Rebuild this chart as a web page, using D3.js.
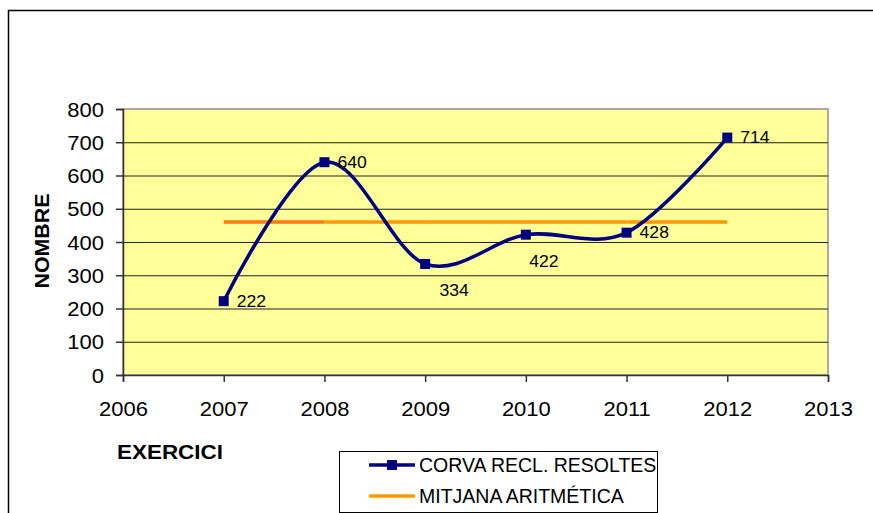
<!DOCTYPE html>
<html>
<head>
<meta charset="utf-8">
<script src="https://cdn.jsdelivr.net/npm/d3@7"></script>
<style>
  body { margin: 0; background: #fff; }
  text { font-family: "Liberation Sans", Arial, sans-serif; fill: #000; }
</style>
</head>
<body>
<div id="chart"></div>
<script>
// chart data
const years = [2007, 2008, 2009, 2010, 2011, 2012];
const resolved = [222, 640, 334, 422, 428, 714];
const meanValues = [460, 460, 460, 460, 460, 460];
const yTicks = [0, 100, 200, 300, 400, 500, 600, 700, 800];
const xTicks = [2006, 2007, 2008, 2009, 2010, 2011, 2012, 2013];
const seriesNames = ["CORVA RECL. RESOLTES", "MITJANA ARITMÉTICA"];

const width = 873, height = 513;
const plot = { left: 123, top: 109, right: 828, bottom: 375 };

const svg = d3.select("#chart").append("svg")
  .attr("width", width)
  .attr("height", height);

// outer chart frame (runs off the right and bottom edge)
svg.append("rect")
  .attr("x", 8.5).attr("y", 10.5)
  .attr("width", 900).attr("height", 600)
  .attr("fill", "none").attr("stroke", "#000").attr("stroke-width", 1.5);

const x = d3.scaleLinear().domain([2006, 2013]).range([plot.left, plot.right]);
const y = d3.scaleLinear().domain([0, 800]).range([plot.bottom, plot.top]);

// plot background
svg.append("rect")
  .attr("x", plot.left).attr("y", plot.top)
  .attr("width", plot.right - plot.left).attr("height", plot.bottom - plot.top)
  .attr("fill", "#FFFF99")
  .attr("stroke", "#909090").attr("stroke-width", 1.5);

// gridlines
svg.append("g").selectAll("line")
  .data(yTicks.filter(d => d > 0 && d < 800))
  .join("line")
  .attr("x1", plot.left).attr("x2", plot.right)
  .attr("y1", d => y(d) + 0.5).attr("y2", d => y(d) + 0.5)
  .attr("stroke", "#222").attr("stroke-width", 1);

// axes
const yAxis = svg.append("g")
  .attr("transform", `translate(${plot.left},0)`)
  .call(d3.axisLeft(y).tickValues(yTicks).tickSize(7).tickPadding(12));
const xAxis = svg.append("g")
  .attr("transform", `translate(0,${plot.bottom})`)
  .call(d3.axisBottom(x).tickValues(xTicks).tickFormat(d3.format("d")).tickSize(7).tickPadding(20));

[yAxis, xAxis].forEach(g => {
  g.select(".domain").attr("stroke", "#333").attr("stroke-width", 1.5);
  g.selectAll(".tick line").attr("stroke", "#333").attr("stroke-width", 1.5);
  g.selectAll(".tick text")
    .attr("font-family", "Liberation Sans, Arial, sans-serif")
    .attr("font-size", 20).attr("fill", "#000")
    .attr("class", "stretch");
});
yAxis.selectAll(".tick text").attr("dy", "0.36em");

// axis titles
svg.append("text")
  .attr("x", 117).attr("y", 459)
  .attr("font-size", 19.5).attr("font-weight", "bold")
  .attr("textLength", 106).attr("lengthAdjust", "spacingAndGlyphs")
  .text("EXERCICI");

svg.append("text")
  .attr("transform", "translate(49,241) rotate(-90)")
  .attr("text-anchor", "middle")
  .attr("font-size", 19.5).attr("font-weight", "bold")
  .attr("textLength", 95).attr("lengthAdjust", "spacingAndGlyphs")
  .text("NOMBRE");

// mean line, drawn per segment
const meanColors = ["#FF7A10", "#FF9900", "#FF9900", "#FF9900", "#FF9900"];
svg.append("g").selectAll("line")
  .data(d3.pairs(years.map((yr, i) => [yr, meanValues[i]])))
  .join("line")
  .attr("x1", d => x(d[0][0])).attr("y1", d => y(d[0][1]))
  .attr("x2", d => x(d[1][0])).attr("y2", d => y(d[1][1]))
  .attr("stroke", (d, i) => meanColors[i])
  .attr("stroke-width", 3.5);

// smoothed series
const pts = years.map((yr, i) => [yr, resolved[i]]);
const line = d3.line()
  .x(d => x(d[0])).y(d => y(d[1]))
  .curve(d3.curveCardinal.tension(0));
svg.append("path")
  .datum(pts)
  .attr("d", line)
  .attr("fill", "none")
  .attr("stroke", "#000080")
  .attr("stroke-width", 3.5);

svg.append("g").selectAll("rect")
  .data(pts)
  .join("rect")
  .attr("x", d => x(d[0]) - 5).attr("y", d => y(d[1]) - 5)
  .attr("width", 10).attr("height", 10)
  .attr("fill", "#000080");

// data labels (Excel put two of them below the point)
const below = { 2009: [29, 26], 2010: [18, 27] };
svg.append("g").selectAll("text")
  .data(pts)
  .join("text")
  .attr("x", d => below[d[0]] ? x(d[0]) + below[d[0]][0] : x(d[0]) + 13)
  .attr("y", d => below[d[0]] ? y(d[1]) + below[d[0]][1] : y(d[1]))
  .attr("dy", "0.36em")
  .attr("text-anchor", d => below[d[0]] ? "middle" : "start")
  .attr("font-size", 16)
  .attr("class", "stretch")
  .text(d => d[1]);

// legend
const legend = svg.append("g");
legend.append("rect")
  .attr("x", 339.5).attr("y", 451.5)
  .attr("width", 318).attr("height", 61)
  .attr("fill", "#fff").attr("stroke", "#000").attr("stroke-width", 1);

const legendColors = ["#000080", "#FF9900"];
const legendY = [465, 496];
seriesNames.forEach((name, i) => {
  legend.append("line")
    .attr("x1", 369).attr("x2", 415)
    .attr("y1", legendY[i]).attr("y2", legendY[i])
    .attr("stroke", legendColors[i]).attr("stroke-width", 3.5);
  if (i === 0) {
    legend.append("rect")
      .attr("x", 387).attr("y", legendY[i] - 5)
      .attr("width", 10).attr("height", 10)
      .attr("fill", legendColors[i]);
  }
  legend.append("text")
    .attr("x", 419).attr("y", legendY[i])
    .attr("dy", "0.36em")
    .attr("font-size", 19.5)
    .text(name);
});

// the original glyphs are a little wider than the font
svg.selectAll("text.stretch").each(function() {
  const w = this.getComputedTextLength();
  d3.select(this).attr("textLength", w * 1.1).attr("lengthAdjust", "spacingAndGlyphs");
});
</script>
</body>
</html>
